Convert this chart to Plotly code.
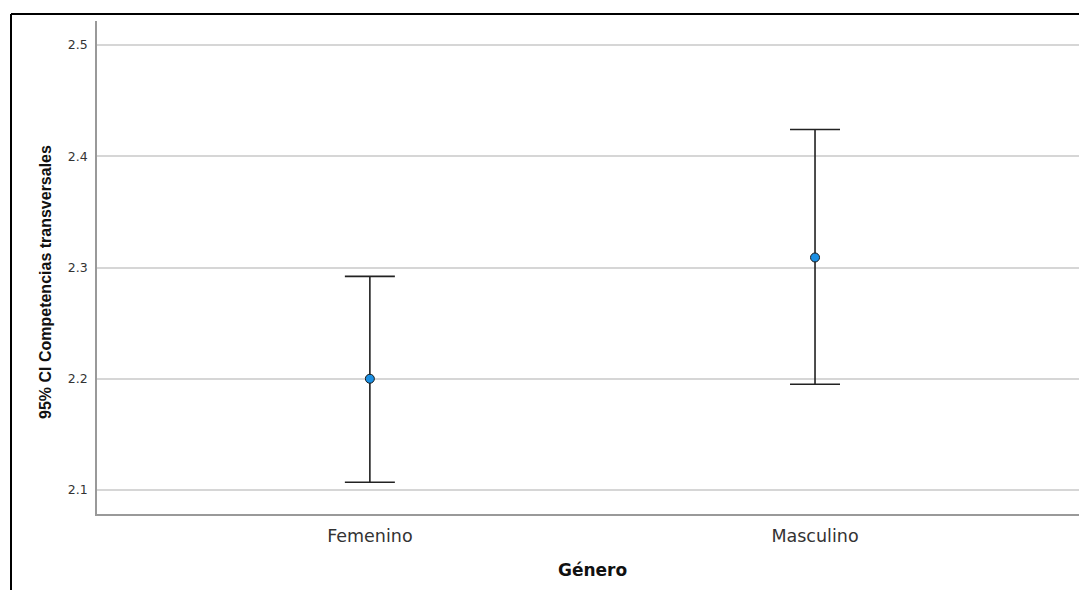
import plotly.graph_objects as go

categories = ["Femenino", "Masculino"]
means = [2.200, 2.309]
upper = [2.292, 2.424]
lower = [2.107, 2.195]
y_ticks = [2.1, 2.2, 2.3, 2.4, 2.5]

err_plus = [u - m for u, m in zip(upper, means)]
err_minus = [m - l for m, l in zip(means, lower)]

fig = go.Figure()
fig.add_trace(go.Scatter(
    x=categories, y=means, mode="markers",
    marker=dict(size=9, color="#1b8fe3", line=dict(color="#1a1a1a", width=1)),
    error_y=dict(type="data", symmetric=False, array=err_plus, arrayminus=err_minus,
                 color="#222222", thickness=1.6, width=25),
    showlegend=False, hoverinfo="skip",
))

OFF = 8  # page body margin
W, H = 1087 - OFF, 590 - OFF
L = 97 - OFF
T = 21 - OFF
R = 0
B = H - (514 - OFF)
pw = W - L - R
ph = H - T - B


def px(xs):
    return (xs - OFF - L) / pw


def py(ys):
    return (H - B - (ys - OFF)) / ph


fig.update_layout(
    width=W, height=H,
    margin=dict(l=L, r=R, t=T, b=B, pad=0),
    paper_bgcolor="white", plot_bgcolor="white",
    xaxis=dict(
        type="category", range=[-0.613, 1.611],
        showgrid=False, zeroline=False,
        showline=True, linecolor="#999999", linewidth=1.5,
        ticks="", tickfont=dict(family="DejaVu Sans", size=17.5, color="#333333"),
        ticklabelstandoff=5,
    ),
    yaxis=dict(
        range=[2.0784, 2.5216],
        tickvals=y_ticks, ticktext=[f"{v:.1f}" for v in y_ticks],
        showgrid=True, gridcolor="#d6d6d6", gridwidth=1.5,
        zeroline=False,
        showline=True, linecolor="#999999", linewidth=1.5,
        ticks="", tickfont=dict(family="DejaVu Sans", size=12.5, color="#333333"),
        ticklabelstandoff=5,
    ),
    annotations=[
        dict(text="<b>Género</b>", xref="paper", yref="paper",
             x=px(592), y=py(570), xanchor="center", yanchor="middle",
             showarrow=False, font=dict(family="DejaVu Sans", size=17, color="#111111")),
        dict(text="<b>95% CI Competencias transversales</b>", xref="paper", yref="paper",
             x=px(45), y=py(282), xanchor="center", yanchor="middle",
             textangle=-90, showarrow=False,
             font=dict(family="Liberation Sans", size=16, color="#111111")),
    ],
    shapes=[
        dict(type="line", xref="paper", yref="paper",
             x0=px(11), x1=px(1090), y0=py(14), y1=py(14),
             line=dict(color="black", width=2)),
        dict(type="line", xref="paper", yref="paper",
             x0=px(11), x1=px(11), y0=py(14), y1=py(592),
             line=dict(color="black", width=2)),
    ],
)

fig.write_html("out.html")
